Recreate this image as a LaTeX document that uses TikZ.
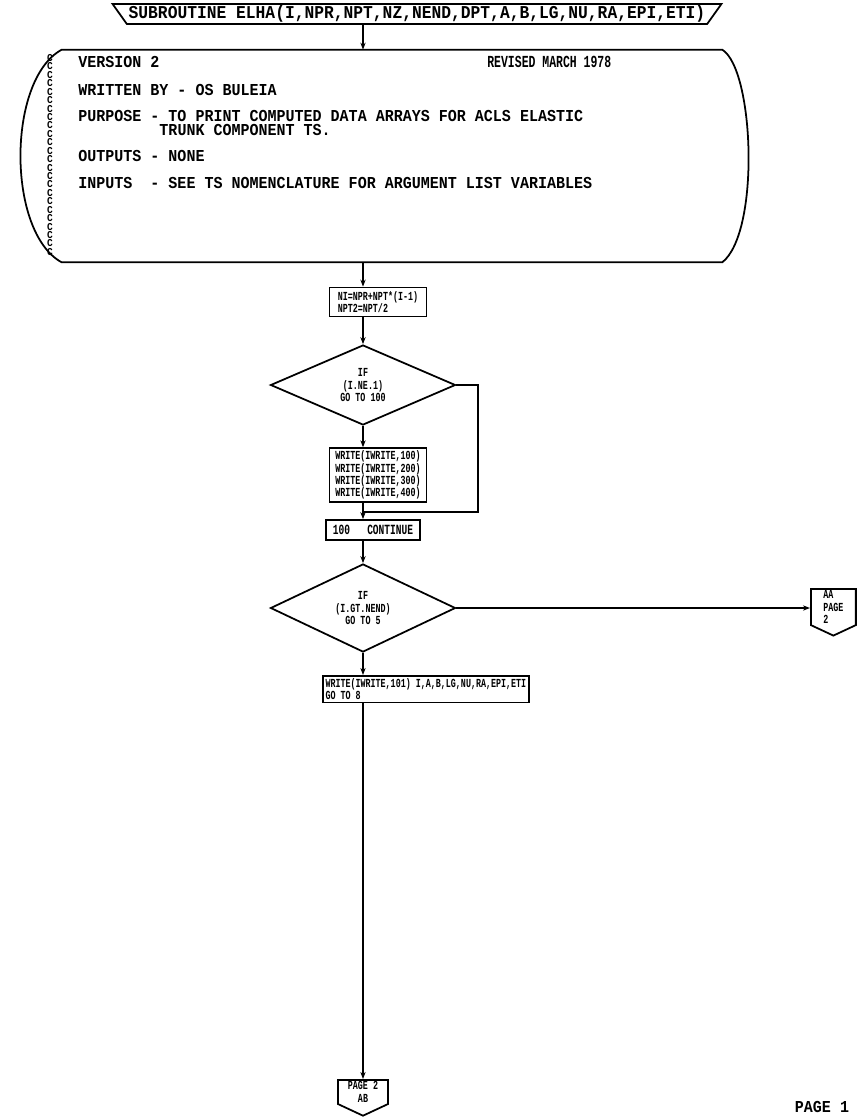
\documentclass[tikz,border=0pt]{standalone}
\usepackage{fontspec}
\setmainfont{Liberation Mono}
\newfontfamily\plotfont{Liberation Mono}[FakeStretch=0.9]
\newfontfamily\boxfont{Liberation Mono}[FakeStretch=0.68]
\usetikzlibrary{shapes.geometric,shapes.symbols,arrows.meta}

\begin{document}
\begin{tikzpicture}[x=0.02cm,y=-0.02cm,
    font=\boxfont\bfseries\fontsize{7}{7}\selectfont,
    box/.style={draw,line width=1pt,rectangle,inner sep=1.5pt,align=left},
    test/.style={draw,line width=1pt,diamond,inner sep=0pt,align=center},
    pageconn/.style={draw,line width=1pt,signal,signal to=south,signal pointer angle=130,inner sep=1pt,align=left},
    note/.style={anchor=west,inner sep=0pt,font=\plotfont\bfseries\fontsize{9.5}{6}\selectfont},
    flow/.style={line width=1pt,-{Stealth[length=4pt,width=3pt]}}]
      \useasboundingbox (0,0) rectangle (861,1117);

      \node[draw,line width=1pt,trapezium,trapezium left angle=130,trapezium right angle=130,
            trapezium stretches=true,minimum width=12.2cm,minimum height=0.4cm,inner sep=0pt,
            font=\plotfont\bfseries\fontsize{10.3}{10}\selectfont] (title) at (417,14)
            {SUBROUTINE ELHA(I,NPR,NPT,NZ,NEND,DPT,A,B,LG,NU,RA,EPI,ETI)};

      % comment block
      \node[minimum width=13.2cm,minimum height=4.24cm] (hdr) at (392,156) {};
      \draw[line width=1pt] (hdr.south west) .. controls +(-55,-30) and +(-55,30) .. (hdr.north west)
            -- (hdr.north east) .. controls +(32,20) and +(38,-30) .. (hdr.south east) -- cycle;
      \node[anchor=north,inner sep=0pt,align=center,font=\plotfont\bfseries\fontsize{6}{4.8}\selectfont] (ccol) at (50,54)
            {C\\C\\C\\C\\C\\C\\C\\C\\C\\C\\C\\C\\C\\C\\C\\C\\C\\C\\C\\C\\C\\C\\C\\C};

      \node[note] (ver) at (78,62) {VERSION 2};
      \node[note,font=\boxfont\bfseries\fontsize{9.6}{6}\selectfont] (rev) at (487,62) {REVISED MARCH 1978};
      \node[note] (wrt) at (78,90) {WRITTEN BY - OS BULEIA};
      \node[note,align=left,font=\plotfont\bfseries\fontsize{9.5}{8.5}\selectfont] (pur) at (78,123)
        {PURPOSE - TO PRINT COMPUTED DATA ARRAYS FOR ACLS ELASTIC\\
        \phantom{PURPOSE -}TRUNK COMPONENT TS.};
      \node[note] (out) at (78,156) {OUTPUTS - NONE};
      \node[note] (inp) at (78,183) {INPUTS~~- SEE TS NOMENCLATURE FOR ARGUMENT LIST VARIABLES};

      \node[box,minimum width=1.94cm,minimum height=0.58cm] (ni) at (378,302) {NI=NPR+NPT*(I-1)\\NPT2=NPT/2};
      \node[test,minimum width=3.7cm,minimum height=1.6cm] (d1) at (363,385) {IF\\(I.NE.1)\\GO TO 100};
      \node[box,minimum width=1.94cm,minimum height=0.9cm] (w4) at (378,475)
            {WRITE(IWRITE,100)\\WRITE(IWRITE,200)\\WRITE(IWRITE,300)\\WRITE(IWRITE,400)};
      \node[box,minimum width=1.88cm,minimum height=0.4cm,font=\boxfont\bfseries\fontsize{8}{7}\selectfont] (cont) at (373,530) {100~~~CONTINUE};
      \node[test,minimum width=3.7cm,minimum height=1.66cm] (d2) at (363,608) {IF\\(I.GT.NEND)\\GO TO 5};
      \node[pageconn,minimum width=0.9cm,minimum height=0.8cm,anchor=north west] (aa) at (810,588) {AA\\PAGE\\2};
      \node[box,minimum width=3.86cm,anchor=north west] (wr) at (322,675) {WRITE(IWRITE,101) I,A,B,LG,NU,RA,EPI,ETI\\GO TO 8};
      \node[pageconn,minimum width=1cm,minimum height=0.64cm,anchor=north,align=center] (pg2) at (363,1079) {PAGE 2\\AB};

      \node[note,anchor=center] (pg) at (822,1107) {PAGE 1};

      \draw[flow] (title.south -| d1.north) -- (hdr.north -| d1.north);
      \draw[flow] (hdr.south -| d1.north) -- (ni.north -| d1.north);
      \draw[flow] (ni.south -| d1.north) -- (d1.north);
      \draw[flow] (d1.south) -- (w4.north -| d1.south);
      \coordinate (jn) at (478,512);
      \draw[line width=1pt] (d1.east) -| (jn) -- (jn -| d1.south);
      \draw[flow] (w4.south -| d1.south) -- (cont.north -| d1.south);
      \draw[flow] (cont.south -| d2.north) -- (d2.north);
      \draw[flow] (d2.east) -- (d2.east -| aa.west);
      \draw[flow] (d2.south) -- (d2.south |- wr.north);
      \draw[flow] (d2.south |- wr.south) -- (pg2.north);
    \end{tikzpicture}
\end{document}
